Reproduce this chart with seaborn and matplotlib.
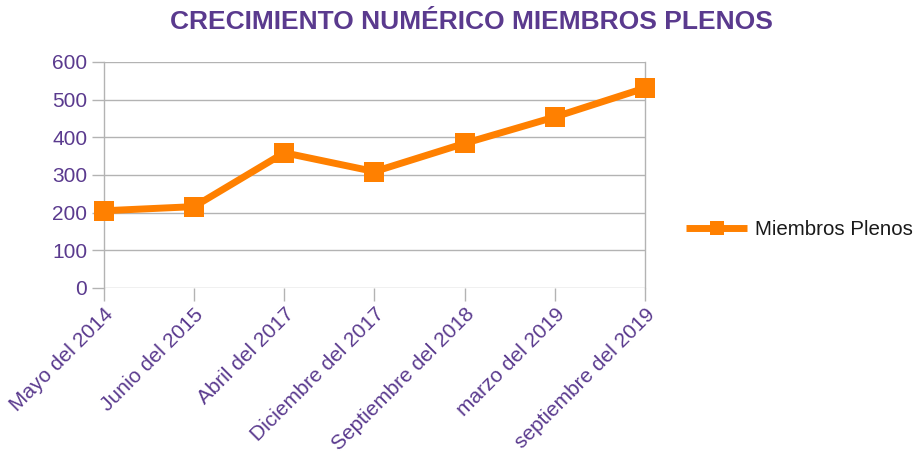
import matplotlib
matplotlib.use("Agg")
import matplotlib.pyplot as plt
import seaborn as sns
import pandas as pd

categories = ["Mayo del 2014", "Junio del 2015", "Abril del 2017", "Diciembre del 2017",
              "Septiembre del 2018", "marzo del 2019", "septiembre del 2019"]
values = [205, 216, 359, 309, 384, 454, 531]
series_name = "Miembros Plenos"
title = "CRECIMIENTO NUMÉRICO MIEMBROS PLENOS"
yticks = [0, 100, 200, 300, 400, 500, 600]

sns.set_style("white")
plt.rcParams['font.family'] = ['Liberation Sans', 'DejaVu Sans']

purple = "#5a3a8e"
orange = "#ff8000"
grid = "#b3b3b3"

df = pd.DataFrame({"Fecha": categories, "Valor": values, "Serie": series_name})

fig = plt.figure(figsize=(9.19, 4.66), dpi=100)
ax = fig.add_axes([0.113, 0.382, 0.589, 0.485])

sns.lineplot(data=df, x="Fecha", y="Valor", hue="Serie", palette=[orange], sort=False,
             marker="s", markersize=15, linewidth=5, markeredgewidth=0, ax=ax,
             clip_on=False, zorder=5, solid_capstyle="butt", solid_joinstyle="miter")

ax.set_xlim(0, len(categories) - 1)
ax.set_ylim(0, 600)
ax.set_yticks(yticks)
ax.set_xlabel("")
ax.set_ylabel("")
ax.yaxis.grid(True, color=grid, linewidth=1)
ax.xaxis.grid(False)
for s in ["top", "bottom"]:
    ax.spines[s].set_visible(False)
for s in ["left", "right"]:
    ax.spines[s].set_color(grid)
    ax.spines[s].set_linewidth(1)

ax.tick_params(axis="y", colors=grid, labelcolor=purple, labelsize=15, length=9, width=1, pad=3, left=True)
ax.tick_params(axis="x", colors=grid, labelcolor=purple, labelsize=15, length=9, width=1, pad=3, bottom=True)
ax.set_xticks(range(len(categories)))
ax.set_xticklabels(categories, rotation=45, ha="right", rotation_mode="anchor")

fig.text(0.513, 0.952, title, ha="center", va="center", fontsize=19, fontweight="bold", color=purple)

leg = ax.legend(loc="center left", bbox_to_anchor=(1.041, 0.26), frameon=False, fontsize=14.8,
                handlelength=3, handletextpad=0.35, markerscale=0.7)
for line in leg.get_lines():
    line.set_solid_capstyle("butt")
for t in leg.get_texts():
    t.set_color("#1a1a1a")

fig.savefig("out.png", dpi=100)
